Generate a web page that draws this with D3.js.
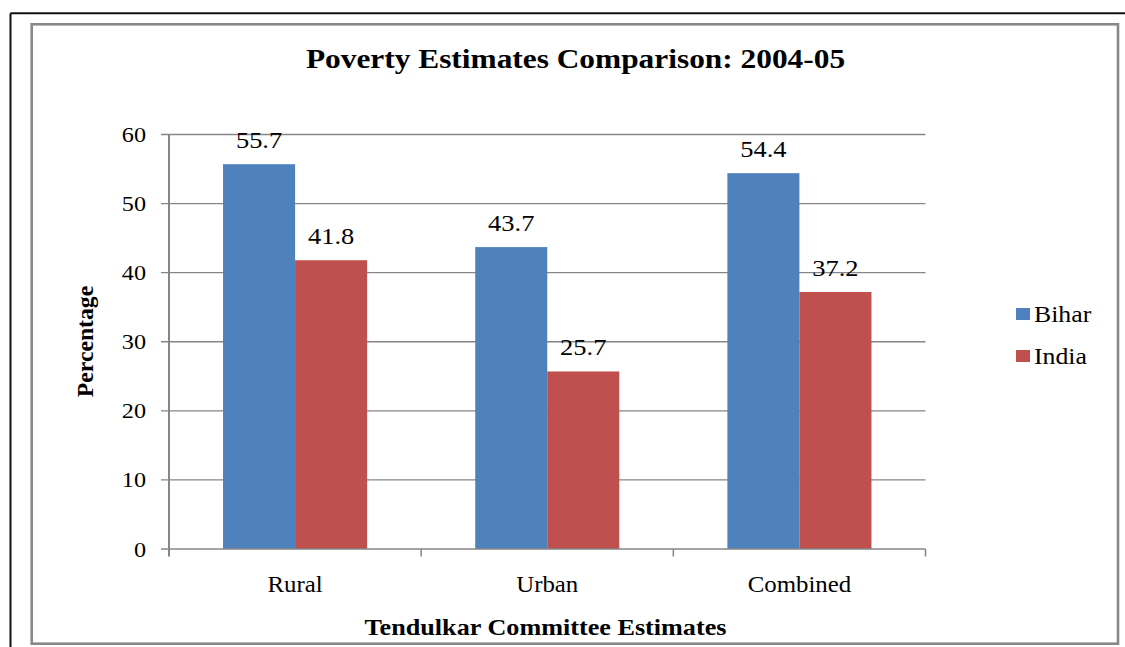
<!DOCTYPE html>
<html>
<head>
<meta charset="utf-8">
<script src="https://cdn.jsdelivr.net/npm/d3@7"></script>
<style>
  html, body { margin: 0; padding: 0; background: #fff; }
  svg { display: block; }
  text { fill: #000; }
</style>
</head>
<body>
<svg id="chart" width="1125" height="647"></svg>
<script>
const categories = ["Rural", "Urban", "Combined"];
const seriesNames = ["Bihar", "India"];
const biharValues = [55.7, 43.7, 54.4];
const indiaValues = [41.8, 25.7, 37.2];
const yTicks = [0, 10, 20, 30, 40, 50, 60];
const titleText = "Poverty Estimates Comparison: 2004-05";
const xTitleText = "Tendulkar Committee Estimates";
const yTitleText = "Percentage";

const FONT = "Tinos, 'Times New Roman', serif";
const colors = { Bihar: "#4F81BD", India: "#C0504D" };
const seriesValues = { Bihar: biharValues, India: indiaValues };

const svg = d3.select("#chart");

// outer frame lines (black) and inner gray border
svg.append("line").attr("x1", 10.5).attr("y1", 13.3).attr("x2", 1125).attr("y2", 13.3)
  .attr("stroke", "#111").attr("stroke-width", 2);
svg.append("line").attr("x1", 10.5).attr("y1", 13.3).attr("x2", 10.5).attr("y2", 647)
  .attr("stroke", "#111").attr("stroke-width", 2);
svg.append("rect").attr("x", 31.7).attr("y", 24.3).attr("width", 1118 - 31.7).attr("height", 643.7 - 24.3)
  .attr("fill", "none").attr("stroke", "#888").attr("stroke-width", 2.6);

const plot = { left: 169, right: 925.5, top: 134.5, bottom: 549 };

const y = d3.scaleLinear().domain([0, 60]).range([plot.bottom, plot.top]);
const x0 = d3.scaleBand().domain(categories).range([plot.left, plot.right]).padding(0);
const x1 = d3.scaleBand().domain(seriesNames).range([0, x0.bandwidth()])
  .paddingInner(0).paddingOuter(0.75);

function stext(g, str, x, yy, size, sx, anchor, bold) {
  const t = g.append("text")
    .attr("x", x).attr("y", yy)
    .attr("text-anchor", anchor)
    .attr("font-family", FONT)
    .attr("font-size", size)
    .attr("font-weight", bold ? 700 : 400)
    .text(str);
  const w = t.node().getComputedTextLength();
  t.attr("textLength", w * sx).attr("lengthAdjust", "spacingAndGlyphs");
  return t;
}

// gridlines + y tick marks
const grid = svg.append("g");
grid.selectAll("line").data(yTicks.filter(d => d > 0)).join("line")
  .attr("x1", plot.left - 8).attr("x2", plot.right)
  .attr("y1", d => y(d)).attr("y2", d => y(d))
  .attr("stroke", "#868686").attr("stroke-width", 1.3);

// bars
const groups = svg.append("g").selectAll("g").data(categories).join("g")
  .attr("transform", d => `translate(${x0(d)},0)`);
groups.selectAll("rect")
  .data((c, i) => seriesNames.map(s => ({ s, v: seriesValues[s][i] })))
  .join("rect")
  .attr("x", d => x1(d.s))
  .attr("width", x1.bandwidth())
  .attr("y", d => y(d.v))
  .attr("height", d => y(0) - y(d.v))
  .attr("fill", d => colors[d.s]);

// data labels
groups.each(function (c, i) {
  const g = d3.select(this);
  seriesNames.forEach(s => {
    const v = seriesValues[s][i];
    stext(g, v.toFixed(1), x1(s) + x1.bandwidth() / 2, y(v) - 16, 23, 1.15, "middle");
  });
});

// axes lines
const axisG = svg.append("g");
axisG.append("line").attr("x1", plot.left).attr("x2", plot.left)
  .attr("y1", plot.top).attr("y2", plot.bottom + 7.5)
  .attr("stroke", "#868686").attr("stroke-width", 2);
axisG.append("line").attr("x1", plot.left - 8).attr("x2", plot.right)
  .attr("y1", plot.bottom).attr("y2", plot.bottom)
  .attr("stroke", "#868686").attr("stroke-width", 1.5);
// category tick marks at band boundaries
const boundaries = categories.map(c => x0(c) + x0.bandwidth());
axisG.selectAll("line.ct").data(boundaries).join("line").attr("class", "ct")
  .attr("x1", d => d).attr("x2", d => d)
  .attr("y1", plot.bottom).attr("y2", plot.bottom + 7.5)
  .attr("stroke", "#868686").attr("stroke-width", 1.5);

// y tick labels
yTicks.forEach(t => stext(svg, String(t), 146, y(t) + 7.5, 22, 1.1, "end"));

// category labels
categories.forEach(c => stext(svg, c, x0(c) + x0.bandwidth() / 2, 591.5, 23, 1.08, "middle"));

// title
stext(svg, titleText, 575.5, 68, 28, 1.12, "middle", true);
// x axis title
stext(svg, xTitleText, 545.5, 635, 24, 1.09, "middle", true);
// y axis title
const yt = svg.append("g").attr("transform", "translate(93,341.5) rotate(-90)");
stext(yt, yTitleText, 0, 0, 23, 1.03, "middle", true);

// legend
const legend = svg.append("g");
seriesNames.forEach((s, i) => {
  const ly = 308 + i * 42;
  legend.append("rect").attr("x", 1016).attr("y", ly).attr("width", 14).attr("height", 12)
    .attr("fill", colors[s]);
  stext(legend, s, 1034, ly + 14, 23, 1.12, "start");
});
</script>
</body>
</html>
